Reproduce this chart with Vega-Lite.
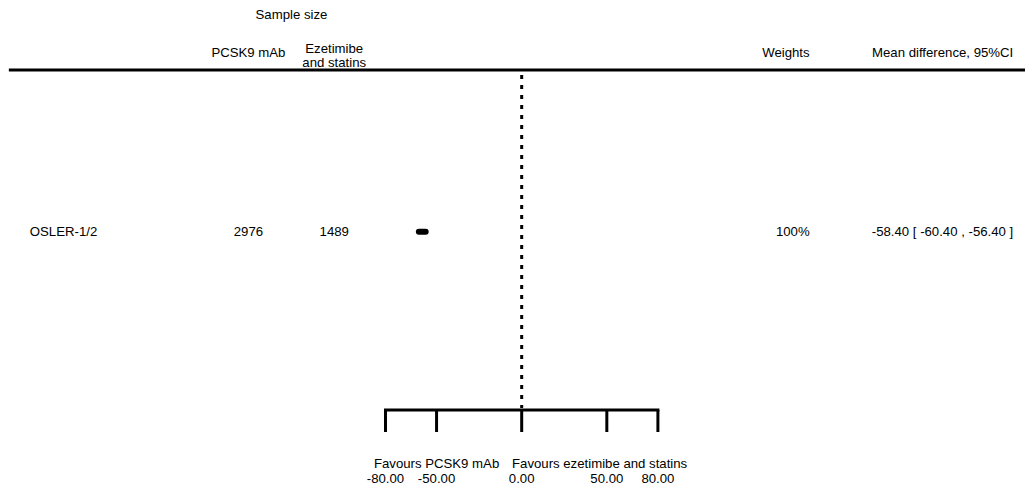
{
  "$schema": "https://vega.github.io/schema/vega-lite/v6.json",
  "autosize": {"type": "fit", "contains": "padding"},
  "width": 1027,
  "height": 491,
  "padding": 0,
  "background": "white",
  "config": {
    "view": {"stroke": null},
    "text": {"font": "Liberation Sans", "fontSize": 13.2, "color": "black"},
    "locale": {"number": {"decimal": ".", "thousands": ",", "grouping": [3], "currency": ["$", ""], "minus": "-"}}
  },
  "datasets": {
    "studies": [
      {"study": "OSLER-1/2", "n_pcsk9": 2976, "n_control": 1489, "weight": "100%", "md": -58.4, "lo": -60.4, "hi": -56.4, "ci_text": "-58.40 [ -60.40 , -56.40 ]"}
    ],
    "ticks": [{"tick": -80}, {"tick": -50}, {"tick": 0}, {"tick": 50}, {"tick": 80}]
  },
  "encoding": {
    "x": {"type": "quantitative", "scale": {"domain": [-306.4, 295.6], "nice": false, "zero": false}, "axis": null},
    "y": {"type": "quantitative", "scale": {"domain": [0, 491], "reverse": true, "nice": false, "zero": false}, "axis": null}
  },
  "layer": [
    {
      "data": {"values": [{}]},
      "mark": {"type": "rule", "strokeWidth": 3, "color": "black"},
      "encoding": {"x": {"datum": -301.2}, "x2": {"datum": 295.6}, "y": {"datum": 70}}
    },
    {
      "data": {"values": [{}]},
      "mark": {"type": "rule", "strokeWidth": 3, "color": "black", "strokeDash": [4, 6]},
      "encoding": {"x": {"datum": 0}, "y": {"datum": 75}, "y2": {"datum": 408}}
    },
    {
      "data": {"values": [{}]},
      "mark": {"type": "rule", "strokeWidth": 3, "color": "black", "strokeCap": "square"},
      "encoding": {"x": {"datum": -80}, "x2": {"datum": 80}, "y": {"datum": 410}}
    },
    {
      "data": {"name": "ticks"},
      "mark": {"type": "rule", "strokeWidth": 3, "color": "black"},
      "encoding": {"x": {"field": "tick", "type": "quantitative"}, "y": {"datum": 410}, "y2": {"datum": 432}}
    },
    {
      "data": {"name": "ticks"},
      "mark": {"type": "text", "align": "center", "baseline": "middle"},
      "encoding": {"x": {"field": "tick", "type": "quantitative"}, "y": {"datum": 479}, "text": {"field": "tick", "type": "quantitative", "format": ".2f"}}
    },
    {
      "data": {"values": [{}]},
      "mark": {"type": "text", "align": "center", "baseline": "middle"},
      "encoding": {"x": {"datum": -50}, "y": {"datum": 464}, "text": {"value": "Favours PCSK9 mAb"}}
    },
    {
      "data": {"values": [{}]},
      "mark": {"type": "text", "align": "left", "baseline": "middle"},
      "encoding": {"x": {"datum": -5.7}, "y": {"datum": 464}, "text": {"value": "Favours ezetimibe and statins"}}
    },
    {
      "data": {"values": [{}]},
      "mark": {"type": "text", "align": "center", "baseline": "middle"},
      "encoding": {"x": {"datum": -135.2}, "y": {"datum": 15}, "text": {"value": "Sample size"}}
    },
    {
      "data": {"values": [{}]},
      "mark": {"type": "text", "align": "center", "baseline": "middle"},
      "encoding": {"x": {"datum": -160.5}, "y": {"datum": 53}, "text": {"value": "PCSK9 mAb"}}
    },
    {
      "data": {"values": [{}]},
      "mark": {"type": "text", "align": "center", "baseline": "middle"},
      "encoding": {"x": {"datum": -110.1}, "y": {"datum": 49}, "text": {"value": "Ezetimibe"}}
    },
    {
      "data": {"values": [{}]},
      "mark": {"type": "text", "align": "center", "baseline": "middle"},
      "encoding": {"x": {"datum": -110.1}, "y": {"datum": 63}, "text": {"value": "and statins"}}
    },
    {
      "data": {"values": [{}]},
      "mark": {"type": "text", "align": "right", "baseline": "middle"},
      "encoding": {"x": {"datum": 169.1}, "y": {"datum": 53}, "text": {"value": "Weights"}}
    },
    {
      "data": {"values": [{}]},
      "mark": {"type": "text", "align": "right", "baseline": "middle"},
      "encoding": {"x": {"datum": 288.7}, "y": {"datum": 53}, "text": {"value": "Mean difference, 95%CI"}}
    },
    {
      "data": {"name": "studies"},
      "mark": {"type": "text", "align": "left", "baseline": "middle"},
      "encoding": {"x": {"datum": -288.9}, "y": {"datum": 232}, "text": {"field": "study", "type": "nominal"}}
    },
    {
      "data": {"name": "studies"},
      "mark": {"type": "text", "align": "center", "baseline": "middle"},
      "encoding": {"x": {"datum": -160.5}, "y": {"datum": 232}, "text": {"field": "n_pcsk9", "type": "quantitative", "format": "d"}}
    },
    {
      "data": {"name": "studies"},
      "mark": {"type": "text", "align": "center", "baseline": "middle"},
      "encoding": {"x": {"datum": -110.1}, "y": {"datum": 232}, "text": {"field": "n_control", "type": "quantitative", "format": "d"}}
    },
    {
      "data": {"name": "studies"},
      "mark": {"type": "text", "align": "right", "baseline": "middle"},
      "encoding": {"x": {"datum": 169.1}, "y": {"datum": 232}, "text": {"field": "weight", "type": "nominal"}}
    },
    {
      "data": {"name": "studies"},
      "mark": {"type": "text", "align": "right", "baseline": "middle"},
      "encoding": {"x": {"datum": 288.7}, "y": {"datum": 232}, "text": {"field": "ci_text", "type": "nominal"}}
    },
    {
      "data": {"name": "studies"},
      "mark": {"type": "rule", "strokeWidth": 6, "strokeCap": "round", "color": "black"},
      "encoding": {"x": {"field": "lo", "type": "quantitative"}, "x2": {"field": "hi"}, "y": {"datum": 231.7}}
    }
  ]
}
